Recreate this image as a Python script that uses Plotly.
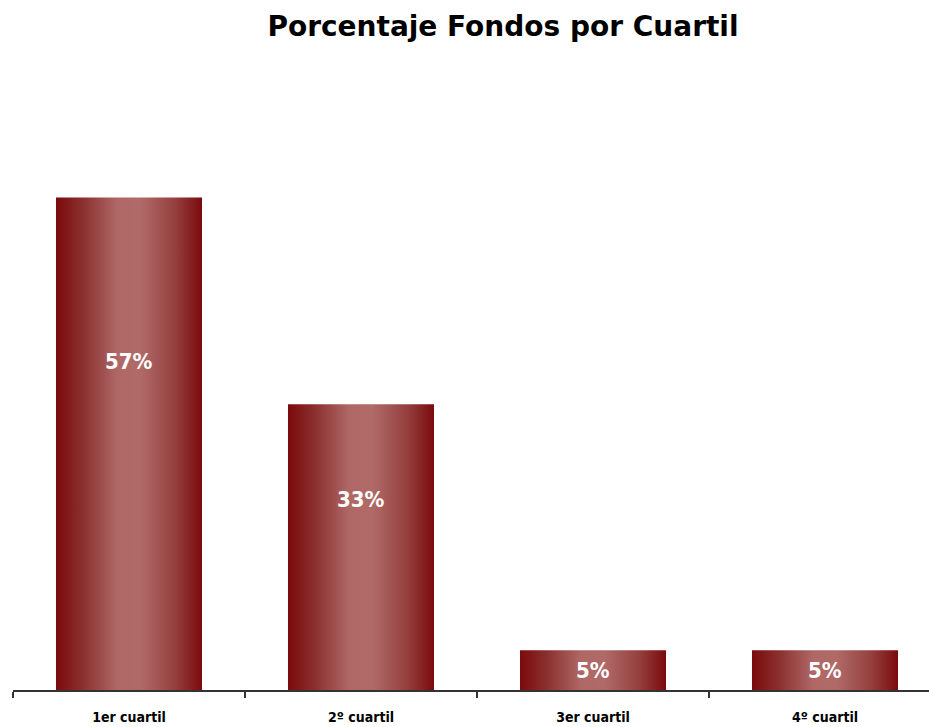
import plotly.graph_objects as go

categories = ["1er cuartil", "2º cuartil", "3er cuartil", "4º cuartil"]
values = [56.9, 33.0, 4.6, 4.6]
labels = [f"{round(v):.0f}%" for v in values]

bar_half = 0.3147
grad = [[0.0, "#7b0a0c"], [0.18, "#8a2f2e"], [0.42, "#af6866"], [0.58, "#b06a68"],
        [0.82, "#943f3e"], [1.0, "#7b0a0c"]]
narrow = "Liberation Sans Narrow, DejaVu Sans Condensed, Arial Narrow, sans-serif"

fig = go.Figure()
for i, (c, v) in enumerate(zip(categories, values)):
    fig.add_trace(go.Scatter(
        x=[i - bar_half, i + bar_half, i + bar_half, i - bar_half, i - bar_half],
        y=[0, 0, v, v, 0],
        mode="lines", line=dict(width=0), fill="toself",
        fillgradient=dict(type="horizontal", colorscale=grad),
        name=c, showlegend=False, hoverinfo="text", text=f"{c}: {labels[i]}",
    ))
    ly = v * 2 / 3 if v > 10 else v / 2
    fig.add_annotation(x=i, y=ly, text=labels[i], showarrow=False,
                       font=dict(family=narrow, size=22, color="white", weight="bold"),
                       xanchor="center", yanchor="middle")

fig.update_layout(
    width=929, height=727,
    margin=dict(l=13, r=0, t=84, b=37),
    plot_bgcolor="white", paper_bgcolor="white",
    title=dict(text="<b>Porcentaje Fondos por Cuartil</b>", x=503 / 929, xanchor="center",
               y=1 - 26 / 727, yanchor="middle",
               font=dict(family="DejaVu Sans, Verdana, sans-serif", size=28, color="black")),
    xaxis=dict(range=[-0.5, -0.5 + 916 / 232], tickmode="array", tickvals=list(range(len(categories))),
               ticktext=categories, ticks="", showgrid=False, zeroline=False, automargin=False,
               showline=True, linecolor="#333333", linewidth=1.5, ticklabelstandoff=13,
               tickfont=dict(family=narrow, size=14, color="black", weight="bold"),
               minor=dict(tickmode="array", tickvals=[-0.5, 0.5, 1.5, 2.5, 3.5], ticks="outside",
                          ticklen=6, tickcolor="#333333", tickwidth=1.5, showgrid=False)),
    yaxis=dict(range=[0, 70], visible=False, showgrid=False, zeroline=False),
)

fig.write_html("out.html", config={"displayModeBar": False},
               post_script="document.body.style.margin='0';document.body.style.overflow='hidden';")
